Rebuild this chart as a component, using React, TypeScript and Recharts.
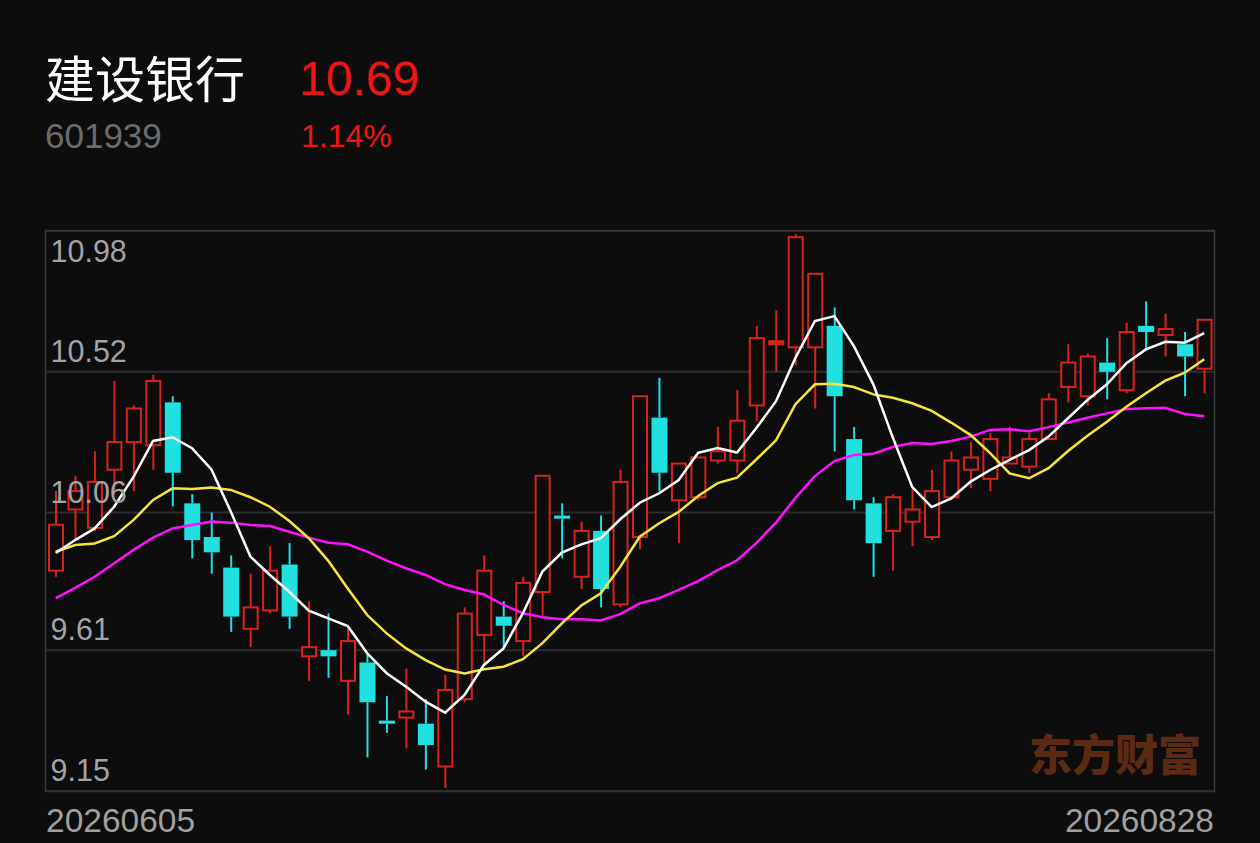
import { ComposedChart, Bar, Line, XAxis, YAxis, CartesianGrid } from 'recharts';

const dates = [
    '20260605', '20260608', '20260609', '20260610', '20260611', '20260612', '20260615', '20260616', '20260617', '20260618',
    '20260622', '20260623', '20260624', '20260625', '20260626', '20260629', '20260630', '20260701', '20260702', '20260703',
    '20260706', '20260707', '20260708', '20260709', '20260710', '20260713', '20260714', '20260715', '20260716', '20260717',
    '20260720', '20260721', '20260722', '20260723', '20260724', '20260727', '20260728', '20260729', '20260730', '20260731',
    '20260803', '20260804', '20260805', '20260806', '20260807', '20260810', '20260811', '20260812', '20260813', '20260814',
    '20260817', '20260818', '20260819', '20260820', '20260821', '20260824', '20260825', '20260826', '20260827', '20260828',
];

const opens = [
    9.87, 10.07, 10.01, 10.2, 10.29, 10.28, 10.42, 10.09, 9.98, 9.88,
    9.68, 9.74, 9.89, 9.59, 9.61, 9.51, 9.57, 9.38, 9.39, 9.37,
    9.23, 9.45, 9.66, 9.72, 9.64, 9.8, 10.05, 9.85, 10.0, 9.76,
    9.98, 10.37, 10.1, 10.11, 10.23, 10.23, 10.41, 10.61, 10.6, 10.6,
    10.67, 10.3, 10.09, 10.0, 10.03, 9.98, 10.11, 10.2, 10.17, 10.22,
    10.21, 10.3, 10.47, 10.44, 10.55, 10.46, 10.67, 10.64, 10.61, 10.53,
];

const closes = [
    10.02, 10.13, 10.16, 10.29, 10.4, 10.49, 10.19, 9.97, 9.93, 9.72,
    9.75, 9.87, 9.72, 9.62, 9.59, 9.64, 9.44, 9.37, 9.41, 9.3,
    9.48, 9.73, 9.87, 9.69, 9.83, 10.18, 10.04, 10.0, 9.81, 10.16,
    10.44, 10.19, 10.22, 10.24, 10.26, 10.36, 10.63, 10.62, 10.96, 10.84,
    10.44, 10.1, 9.96, 10.11, 10.07, 10.13, 10.23, 10.24, 10.3, 10.24,
    10.3, 10.43, 10.55, 10.57, 10.52, 10.65, 10.65, 10.66, 10.57, 10.69,
];

const highs = [
    10.13, 10.18, 10.26, 10.49, 10.41, 10.51, 10.44, 10.12, 10.06, 9.92,
    9.86, 9.95, 9.96, 9.77, 9.73, 9.69, 9.6, 9.46, 9.55, 9.45,
    9.53, 9.75, 9.92, 9.77, 9.85, 10.18, 10.09, 10.03, 10.05, 10.2,
    10.44, 10.5, 10.22, 10.24, 10.34, 10.46, 10.67, 10.72, 10.97, 10.84,
    10.73, 10.34, 10.11, 10.12, 10.14, 10.2, 10.26, 10.29, 10.32, 10.34,
    10.32, 10.45, 10.61, 10.58, 10.63, 10.68, 10.75, 10.71, 10.65, 10.69,
];

const lows = [
    9.85, 9.97, 10.0, 10.13, 10.13, 10.2, 10.08, 9.91, 9.86, 9.67,
    9.62, 9.73, 9.68, 9.51, 9.52, 9.4, 9.26, 9.34, 9.29, 9.22,
    9.16, 9.44, 9.56, 9.62, 9.59, 9.72, 9.91, 9.81, 9.75, 9.75,
    9.94, 10.13, 9.96, 10.1, 10.22, 10.19, 10.36, 10.52, 10.54, 10.4,
    10.26, 10.07, 9.85, 9.87, 9.95, 9.97, 10.1, 10.14, 10.13, 10.22,
    10.19, 10.3, 10.42, 10.41, 10.43, 10.45, 10.59, 10.57, 10.44, 10.45,
];

const ma5 = [
    9.928, 9.97, 10.008, 10.079, 10.177, 10.294, 10.306, 10.27, 10.201, 10.062,
    9.916, 9.856, 9.801, 9.739, 9.714, 9.689, 9.6, 9.535, 9.491, 9.442,
    9.406, 9.464, 9.562, 9.616, 9.731, 9.867, 9.929, 9.956, 9.976, 10.038,
    10.092, 10.123, 10.166, 10.255, 10.271, 10.256, 10.337, 10.424, 10.566, 10.686,
    10.702, 10.604, 10.479, 10.305, 10.143, 10.078, 10.106, 10.161, 10.199, 10.232,
    10.264, 10.308, 10.368, 10.428, 10.479, 10.548, 10.593, 10.618, 10.615, 10.646,
];

const ma10 = [
    9.932, 9.954, 9.959, 9.983, 10.036, 10.101, 10.139, 10.137, 10.142, 10.134,
    10.11, 10.079, 10.032, 9.976, 9.902, 9.812, 9.725, 9.665, 9.616, 9.578,
    9.547, 9.534, 9.548, 9.556, 9.581, 9.633, 9.698, 9.756, 9.796, 9.883,
    9.981, 10.025, 10.062, 10.114, 10.156, 10.174, 10.234, 10.296, 10.414, 10.479,
    10.481, 10.47, 10.446, 10.435, 10.417, 10.392, 10.354, 10.313, 10.254, 10.188,
    10.172, 10.205, 10.261, 10.311, 10.357, 10.406, 10.45, 10.491, 10.517, 10.561,
];

const ma20 = [
    9.78, 9.814, 9.85, 9.894, 9.938, 9.978, 10.008, 10.019, 10.031, 10.027,
    10.019, 10.016, 9.997, 9.978, 9.961, 9.956, 9.932, 9.903, 9.878, 9.856,
    9.826, 9.807, 9.792, 9.758, 9.731, 9.718, 9.711, 9.711, 9.707, 9.728,
    9.763, 9.78, 9.807, 9.836, 9.872, 9.904, 9.961, 10.027, 10.108, 10.179,
    10.228, 10.248, 10.252, 10.274, 10.287, 10.284, 10.294, 10.308, 10.33, 10.332,
    10.326, 10.339, 10.354, 10.37, 10.384, 10.398, 10.401, 10.402, 10.382, 10.375,
];

const priceTicks = [9.15, 9.61, 10.06, 10.52, 10.98];

const BG = '#0d0d0d';
const RED = '#d8231d';
const CYAN = '#20e0e0';
const CHART_W = 1168;
const PLOT_H = 560;
const BAND = CHART_W / dates.length;
const NUM_FONT = '"Liberation Sans", Arial, sans-serif';
const CJK_FONT = '"Noto Sans CJK SC", "Noto Sans", sans-serif';

const rows = dates.map((date, i) => ({
    date,
    open: opens[i],
    close: closes[i],
    high: highs[i],
    low: lows[i],
    range: [lows[i], highs[i]],
    ma5: ma5[i],
    ma10: ma10[i],
    ma20: ma20[i],
}));

function Candle(props: any) {
    const { x, width, payload } = props;
    let { y, height } = props;
    if (height < 0) {
        y += height;
        height = -height;
    }
    const { open, close, high, low } = payload;
    const up = close >= open;
    const color = up ? RED : CYAN;
    const ratio = height / (high - low || 1);
    const yOf = (v: number) => y + (high - v) * ratio;
    const cx = x + width / 2;
    const top = yOf(Math.max(open, close));
    const bot = yOf(Math.min(open, close));
    const bodyH = Math.max(bot - top, 1.5);

    return (
        <g>
            <line x1={cx} x2={cx} y1={yOf(high)} y2={top} stroke={color} strokeWidth={2} />
            <line x1={cx} x2={cx} y1={top + bodyH} y2={yOf(low)} stroke={color} strokeWidth={2} />
            {up ? (
                <rect
                    x={x + 1}
                    y={top}
                    width={width - 2}
                    height={bodyH}
                    fill={bodyH < 5 ? RED : BG}
                    stroke={RED}
                    strokeWidth={2}
                />
            ) : (
                <rect x={x} y={top} width={width} height={bodyH} fill={CYAN} />
            )}
        </g>
    );
}

function PriceTick({ y, payload }: any) {
    const isTop = payload.value === priceTicks[priceTicks.length - 1];
    return (
        <text x={4.5} y={isTop ? y + 31 : y - 10} fill="#a2a2aa" fontSize={30.5} fontFamily={NUM_FONT}>
            {Number(payload.value).toFixed(2)}
        </text>
    );
}

function DateTick({ x, y, payload }: any) {
    const first = payload.value === dates[0];
    return (
        <text
            x={first ? x - BAND / 2 : x + BAND / 2}
            y={y + 41}
            textAnchor={first ? 'start' : 'end'}
            fill="#a0a0a0"
            fontSize={33.5}
            fontFamily={NUM_FONT}
        >
            {payload.value}
        </text>
    );
}

export default function App() {
    return (
        <div style={{ position: 'absolute', left: 0, top: 0, width: 1260, height: 843, background: BG, overflow: 'hidden' }}>
            <svg width={1260} height={843} style={{ position: 'absolute', left: 0, top: 0 }}>
                <text x={45} y={98} fill="#ffffff" fontSize={50} fontFamily={CJK_FONT}>建设银行</text>
                <text x={299} y={95} fill="#f01414" fontSize={48} fontFamily={NUM_FONT}>10.69</text>
                <text x={45} y={148} fill="#6b6b6b" fontSize={35} fontFamily={NUM_FONT}>601939</text>
                <text x={301} y={147} fill="#f01414" fontSize={32} fontFamily={NUM_FONT}>1.14%</text>
                <text
                    x={1201}
                    y={771}
                    textAnchor="end"
                    fill="#5a2a12"
                    fontSize={43}
                    fontWeight={900}
                    fontFamily={CJK_FONT}
                >
                    东方财富
                </text>
                <rect x={45.5} y={230.5} width={CHART_W + 1} height={PLOT_H + 1} fill="none" stroke="#3a3a3a" strokeWidth={1.5} />
            </svg>

            <div style={{ position: 'absolute', left: 46, top: 231 }}>
                <ComposedChart
                    width={CHART_W}
                    height={PLOT_H + 52}
                    data={rows}
                    margin={{ top: 0, right: 0, bottom: 0, left: 0 }}
                >
                    <CartesianGrid vertical={false} stroke="#2c2c2c" strokeWidth={2} />
                    <XAxis
                        dataKey="date"
                        height={52}
                        axisLine={false}
                        tickLine={false}
                        tickSize={0}
                        tickMargin={0}
                        ticks={[dates[0], dates[dates.length - 1]]}
                        interval={0}
                        tick={DateTick}
                    />
                    <YAxis
                        domain={[9.15, 10.98]}
                        ticks={priceTicks}
                        allowDataOverflow
                        mirror
                        width={60}
                        axisLine={false}
                        tickLine={false}
                        tickSize={0}
                        tickMargin={0}
                        interval={0}
                        tick={PriceTick}
                    />
                    <Bar dataKey="range" barSize={16} shape={Candle} isAnimationActive={false} />
                    <Line type="linear" dataKey="ma20" stroke="#ff10ff" strokeWidth={2.5} dot={false} isAnimationActive={false} />
                    <Line type="linear" dataKey="ma10" stroke="#f7e53c" strokeWidth={2.5} dot={false} isAnimationActive={false} />
                    <Line type="linear" dataKey="ma5" stroke="#ffffff" strokeWidth={2.5} dot={false} isAnimationActive={false} />
                </ComposedChart>
            </div>
        </div>
    );
}
